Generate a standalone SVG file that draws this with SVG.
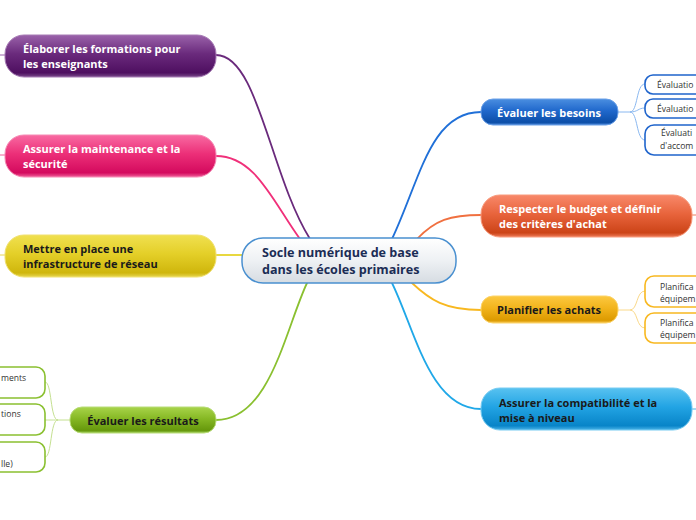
<svg xmlns="http://www.w3.org/2000/svg" width="696" height="520" viewBox="0 0 696 520">
<defs>
<linearGradient id="gPurple" x1="0" y1="0" x2="0" y2="1"><stop offset="0" stop-color="#9a62aa"/><stop offset="0.45" stop-color="#6a2a7c"/><stop offset="0.9" stop-color="#4e0f60"/><stop offset="1" stop-color="#7a4a8a"/></linearGradient>
<linearGradient id="gPink" x1="0" y1="0" x2="0" y2="1"><stop offset="0" stop-color="#f86aa2"/><stop offset="0.45" stop-color="#ec2f78"/><stop offset="0.9" stop-color="#d40a5e"/><stop offset="1" stop-color="#f0609a"/></linearGradient>
<linearGradient id="gYellow" x1="0" y1="0" x2="0" y2="1"><stop offset="0" stop-color="#f0e050"/><stop offset="0.45" stop-color="#e4cf28"/><stop offset="0.9" stop-color="#cfb60c"/><stop offset="1" stop-color="#e6d650"/></linearGradient>
<linearGradient id="gGreen" x1="0" y1="0" x2="0" y2="1"><stop offset="0" stop-color="#a8d44a"/><stop offset="0.45" stop-color="#86b824"/><stop offset="0.9" stop-color="#66980c"/><stop offset="1" stop-color="#98c850"/></linearGradient>
<linearGradient id="gBlue" x1="0" y1="0" x2="0" y2="1"><stop offset="0" stop-color="#4a8ee0"/><stop offset="0.45" stop-color="#2068cc"/><stop offset="0.9" stop-color="#0c4ea8"/><stop offset="1" stop-color="#4a86d8"/></linearGradient>
<linearGradient id="gOrange" x1="0" y1="0" x2="0" y2="1"><stop offset="0" stop-color="#f8886a"/><stop offset="0.45" stop-color="#e8643c"/><stop offset="0.9" stop-color="#cc4418"/><stop offset="1" stop-color="#ee7c5a"/></linearGradient>
<linearGradient id="gAmber" x1="0" y1="0" x2="0" y2="1"><stop offset="0" stop-color="#fcc840"/><stop offset="0.45" stop-color="#f2b41c"/><stop offset="0.9" stop-color="#dc9a00"/><stop offset="1" stop-color="#f4c24a"/></linearGradient>
<linearGradient id="gCyan" x1="0" y1="0" x2="0" y2="1"><stop offset="0" stop-color="#58c2f0"/><stop offset="0.45" stop-color="#22a4e4"/><stop offset="0.9" stop-color="#0884c8"/><stop offset="1" stop-color="#4ab4e8"/></linearGradient>
<linearGradient id="gCentral" x1="0" y1="0" x2="0" y2="1"><stop offset="0" stop-color="#ffffff"/><stop offset="0.5" stop-color="#eef1f4"/><stop offset="1" stop-color="#d6dce2"/></linearGradient>
</defs>
<style>
.main{font-family:"Open Sans","Noto Sans","DejaVu Sans",sans-serif;font-weight:bold;font-size:11px;}
.w{fill:#ffffff;}
.k{fill:#1a1a1a;}
.c{font-family:"Open Sans","Noto Sans","DejaVu Sans",sans-serif;font-weight:bold;font-size:12.6px;fill:#1b2d55;}
.sub{font-family:"Open Sans","Noto Sans","DejaVu Sans",sans-serif;font-size:8.6px;fill:#333333;}
.conn{fill:none;stroke-width:1.8;stroke-linecap:round;}
.thin{fill:none;stroke-width:1;}
.box{fill:#ffffff;stroke-width:1.6;}
</style>
<g id="connectors">
<path class="conn" stroke="#6a2a7c" d="M216,55 C258,55 270,175 310,239"/>
<path class="conn" stroke="#f0307a" d="M216,156 C255,156 272,200 300,239"/>
<path class="conn" stroke="#e8d840" d="M216,255 L242,255"/>
<path class="conn" stroke="#8ac030" d="M307,283 C285,330 270,420 216,420"/>
<path class="conn" stroke="#2070d8" d="M392,239 C420,180 430,112 481,112"/>
<path class="conn" stroke="#f07040" d="M417,239 C435,220 450,215 481,215"/>
<path class="conn" stroke="#f8b820" d="M412,283 C430,300 445,310 481,310"/>
<path class="conn" stroke="#20a8e8" d="M392,283 C415,330 430,409 481,409"/>
<path class="thin" stroke="#9a62aa" d="M0,55 L5,55"/>
<path class="thin" stroke="#f0609a" d="M0,155 L5,155"/>
<path class="thin" stroke="#e6d650" d="M0,255 L5,255"/>
<path class="thin" stroke="#ee7c5a" d="M692,215 L696,215"/>
<path class="thin" stroke="#4ab4e8" d="M692,409 L696,409"/>
<path class="thin" stroke="#8ab8f0" d="M618,112 L630,112 C638,112 636,84 645,84 M630,112 C638,112 638,108 645,108 M630,112 C638,112 636,140 645,140"/>
<path class="thin" stroke="#fad98a" d="M618,310 L630,310 C638,310 636,291 645,291 M630,310 C638,310 636,328 645,328"/>
<path class="thin" stroke="#c4e090" d="M70,420 L58,420 C50,420 52,382 45,382 M58,420 C50,420 52,420 45,420 M58,420 C50,420 52,457 45,457"/>
</g>
<g id="central">
<rect x="242" y="238" width="214" height="45" rx="21" fill="url(#gCentral)" stroke="#4a90d0" stroke-width="1.5"/>
<text class="c" x="262" y="257">Socle numérique de base</text>
<text class="c" x="262" y="274">dans les écoles primaires</text>
</g>
<g id="n-formations">
<rect x="5" y="35" width="211" height="42" rx="19" fill="url(#gPurple)" stroke="#a67ab4" stroke-width="1"/>
<text class="main w" x="23" y="53">Élaborer les formations pour</text>
<text class="main w" x="23" y="68">les enseignants</text>
</g>
<g id="n-maintenance">
<rect x="5" y="135" width="211" height="42" rx="19" fill="url(#gPink)" stroke="#f58ab4" stroke-width="1"/>
<text class="main w" x="23" y="153">Assurer la maintenance et la</text>
<text class="main w" x="23" y="168">sécurité</text>
</g>
<g id="n-infra">
<rect x="5" y="235" width="211" height="42" rx="19" fill="url(#gYellow)" stroke="#f0e070" stroke-width="1"/>
<text class="main k" x="23" y="253">Mettre en place une</text>
<text class="main k" x="23" y="268">infrastructure de réseau</text>
</g>
<g id="n-resultats">
<rect x="70" y="407" width="146" height="26" rx="12" fill="url(#gGreen)" stroke="#b8dc78" stroke-width="1"/>
<text class="main k" x="143" y="425" text-anchor="middle">Évaluer les résultats</text>
</g>
<g id="n-res-1">
<rect x="-30" y="367" width="75" height="31" rx="9" class="box" stroke="#8ac030"/>
<text class="sub" x="1" y="381">ments</text>
</g>
<g id="n-res-2">
<rect x="-30" y="404" width="75" height="31" rx="9" class="box" stroke="#8ac030"/>
<text class="sub" x="1" y="417">tions</text>
</g>
<g id="n-res-3">
<rect x="-30" y="442" width="75" height="30" rx="9" class="box" stroke="#8ac030"/>
<text class="sub" x="1" y="467">lle)</text>
</g>
<g id="n-besoins">
<rect x="481" y="99" width="137" height="26" rx="12" fill="url(#gBlue)" stroke="#6aa0e8" stroke-width="1"/>
<text class="main w" x="549" y="117" text-anchor="middle">Évaluer les besoins</text>
</g>
<g id="n-bes-1">
<rect x="645" y="75" width="80" height="19" rx="8" class="box" stroke="#1f64cc"/>
<text class="sub" x="657" y="88">Évaluatio</text>
</g>
<g id="n-bes-2">
<rect x="645" y="99" width="80" height="19" rx="8" class="box" stroke="#1f64cc"/>
<text class="sub" x="657" y="112">Évaluatio</text>
</g>
<g id="n-bes-3">
<rect x="645" y="125" width="80" height="30" rx="9" class="box" stroke="#1f64cc"/>
<text class="sub" x="661" y="136">Évaluati</text>
<text class="sub" x="660" y="149">d'accom</text>
</g>
<g id="n-budget">
<rect x="481" y="195" width="211" height="42" rx="19" fill="url(#gOrange)" stroke="#f89a7c" stroke-width="1"/>
<text class="main w" x="499" y="213">Respecter le budget et définir</text>
<text class="main w" x="499" y="228">des critères d'achat</text>
</g>
<g id="n-achats">
<rect x="481" y="296" width="137" height="27" rx="12" fill="url(#gAmber)" stroke="#fcd46a" stroke-width="1"/>
<text class="main k" x="549" y="314" text-anchor="middle">Planifier les achats</text>
</g>
<g id="n-ach-1">
<rect x="645" y="276" width="80" height="31" rx="9" class="box" stroke="#f8b820"/>
<text class="sub" x="660" y="290">Planifica</text>
<text class="sub" x="660" y="302">équipem</text>
</g>
<g id="n-ach-2">
<rect x="645" y="313" width="80" height="30" rx="9" class="box" stroke="#f8b820"/>
<text class="sub" x="660" y="326">Planifica</text>
<text class="sub" x="660" y="338">équipem</text>
</g>
<g id="n-compat">
<rect x="481" y="388" width="211" height="42" rx="19" fill="url(#gCyan)" stroke="#78ccf2" stroke-width="1"/>
<text class="main k" x="499" y="407">Assurer la compatibilité et la</text>
<text class="main k" x="499" y="422">mise à niveau</text>
</g>
</svg>
